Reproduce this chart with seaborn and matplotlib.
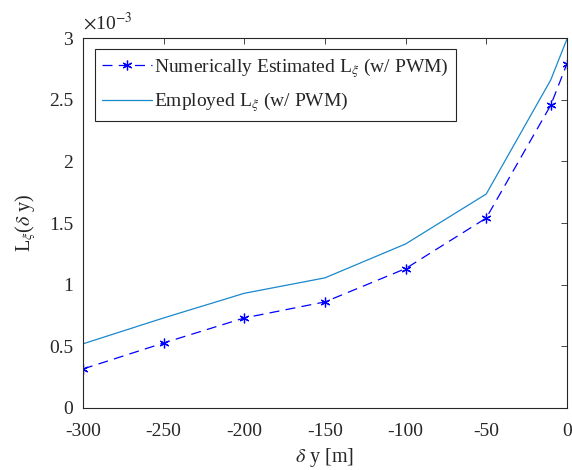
import matplotlib
matplotlib.use("Agg")
import matplotlib.pyplot as plt
import seaborn as sns
import pandas as pd
from matplotlib.ticker import FuncFormatter

# Data (values in units of 1e-3)
dy = [-300, -250, -200, -150, -100, -50, -10, 0]
numerical = [0.316, 0.527, 0.73, 0.86, 1.13, 1.54, 2.455, 2.79]
employed = [0.52, 0.73, 0.93, 1.055, 1.33, 1.735, 2.66, 2.99]
xticks = [-300, -250, -200, -150, -100, -50, 0]
yticks = [0, 0.5, 1, 1.5, 2, 2.5, 3]
label_num = r"Numerically Estimated L$_\xi$ (w/ PWM)"
label_emp = r"Employed L$_\xi$ (w/ PWM)"

sns.set_style("white")
plt.rcParams["font.family"] = ["Liberation Serif", "DejaVu Serif"]
plt.rcParams["mathtext.fontset"] = "stix"
plt.rcParams["axes.unicode_minus"] = False

df_num = pd.DataFrame({"x": dy, "y": numerical})
df_emp = pd.DataFrame({"x": dy, "y": employed})

fig = plt.figure(figsize=(5.72, 4.70), dpi=100)
ax = fig.add_axes([0.145, 0.132, 0.846, 0.787])

sns.lineplot(data=df_num, x="x", y="y", ax=ax, color="#0000ff", linestyle=(0, (8, 5)),
             linewidth=0.9, marker=(6, 2, 0), markersize=7, markeredgewidth=0.9,
             markeredgecolor="#0000ff", label=label_num)
sns.lineplot(data=df_emp, x="x", y="y", ax=ax, color="#1a88cc", linewidth=0.9,
             label=label_emp)

ax.set_xlim(-300, 0)
ax.set_ylim(0, 3)
ax.set_xticks(xticks)
ax.set_yticks(yticks)
ax.yaxis.set_major_formatter(FuncFormatter(lambda v, p: f"{v:g}"))
ax.text(0.0, 1.012, r"$\times$10$^{-3}$", transform=ax.transAxes, fontsize=14,
        ha="left", va="bottom", color="#262626")

ax.tick_params(direction="in", length=4, width=0.6, labelsize=14, top=True, right=True,
               colors="#262626", labelcolor="#262626")
ax.tick_params(axis="y", pad=7)
ax.tick_params(axis="x", pad=11)
for s in ax.spines.values():
    s.set_color("#262626")
    s.set_linewidth(0.8)

ax.set_xlabel(r"$\delta$ y [m]", fontsize=14.5, labelpad=4, color="#262626")
ax.set_ylabel(r"L$_\xi$($\delta$ y)", fontsize=14.5, labelpad=8, color="#262626")

leg = ax.legend(loc="upper left", bbox_to_anchor=(0.025, 0.97), fontsize=14,
                frameon=True, fancybox=False, edgecolor="#262626", framealpha=1,
                borderpad=0.35, handlelength=2.6, handletextpad=0.1, labelspacing=0.55,
                borderaxespad=0)
leg.get_frame().set_linewidth(0.8)

fig.savefig("out.png", dpi=100)
